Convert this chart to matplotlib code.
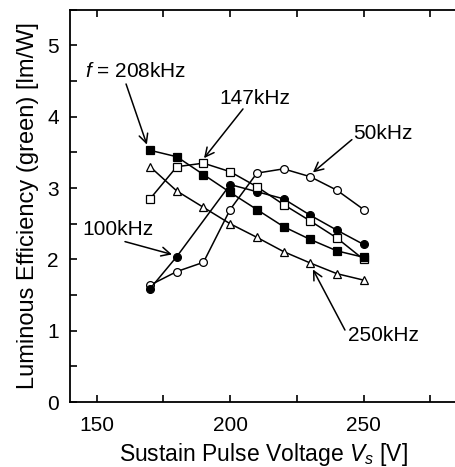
import matplotlib
matplotlib.use('Agg')
import matplotlib.pyplot as plt
from matplotlib.ticker import MultipleLocator

plt.rcParams.update({
    'font.family': ['Liberation Sans', 'DejaVu Sans'],
    'font.size': 15,
    'mathtext.fontset': 'custom',
    'mathtext.it': 'Liberation Sans:italic',
    'mathtext.rm': 'Liberation Sans',
})

# data
voltage = [170, 180, 190, 200, 210, 220, 230, 240, 250]
eff_208 = [3.53, 3.44, 3.19, 2.94, 2.70, 2.46, 2.28, 2.12, 2.03]
eff_147 = [2.85, 3.30, 3.35, 3.23, 3.02, 2.77, 2.54, 2.30, 2.00]
eff_50 = [1.64, 1.83, 1.96, 2.70, 3.21, 3.27, 3.16, 2.97, 2.70]
voltage_100 = [170, 180, 200, 210, 220, 230, 240, 250]
eff_100 = [1.59, 2.04, 3.05, 2.95, 2.85, 2.62, 2.41, 2.21]
eff_250 = [3.30, 2.96, 2.73, 2.50, 2.31, 2.11, 1.95, 1.80, 1.71]

fig = plt.figure(figsize=(4.56, 4.67), dpi=100)
ax = fig.add_axes([0.1535, 0.139, 0.8465, 0.84])

kw = dict(color='black', lw=1.1, mec='black', mew=0.9, clip_on=False)
ax.plot(voltage, eff_250, marker='^', mfc='white', ms=6.3, **kw)
ax.plot(voltage, eff_50, marker='o', mfc='white', ms=5.6, **kw)
ax.plot(voltage_100, eff_100, marker='o', mfc='black', ms=5.6, **kw)
ax.plot(voltage, eff_147, marker='s', mfc='white', ms=5.4, **kw)
ax.plot(voltage, eff_208, marker='s', mfc='black', ms=5.4, **kw)

ax.set_xlim(140, 284.6)
ax.set_ylim(0, 5.5)
ax.xaxis.set_major_locator(MultipleLocator(50))
ax.xaxis.set_minor_locator(MultipleLocator(25))
ax.yaxis.set_major_locator(MultipleLocator(1))
ax.yaxis.set_minor_locator(MultipleLocator(0.5))
ax.tick_params(which='both', direction='in', top=True, right=False, width=1.2, length=5)
ax.tick_params(axis='x', pad=10, labelsize=15)
ax.tick_params(axis='y', pad=8, labelsize=15)
ax.spines['right'].set_visible(False)
for s in ['left', 'bottom', 'top']:
    ax.spines[s].set_linewidth(1.3)

ax.set_xlabel('Sustain Pulse Voltage $V_s$ [V]', fontsize=16.5, labelpad=4)
ax.set_ylabel('Luminous Efficiency (green) [lm/W]', fontsize=17, labelpad=6)

arrow = dict(arrowstyle='->', color='black', lw=1.1, mutation_scale=16,
             shrinkA=0, shrinkB=0)
# arrows
ax.annotate('', xy=(168.8, 3.61), xytext=(161.0, 4.46), arrowprops=arrow)
ax.annotate('', xy=(190.2, 3.42), xytext=(204.8, 4.11), arrowprops=arrow)
ax.annotate('', xy=(231.0, 3.22), xytext=(245.6, 3.68), arrowprops=arrow)
ax.annotate('', xy=(178.2, 2.07), xytext=(160.6, 2.25), arrowprops=arrow)
ax.annotate('', xy=(231.0, 1.86), xytext=(243.0, 1.01), arrowprops=arrow)
# labels
ax.text(145.6, 4.64, '$f$ = 208kHz', ha='left', va='center', fontsize=15)
ax.text(209.3, 4.26, '147kHz', ha='center', va='center', fontsize=15)
ax.text(257.2, 3.76, '50kHz', ha='center', va='center', fontsize=15)
ax.text(158.0, 2.42, '100kHz', ha='center', va='center', fontsize=15)
ax.text(257.6, 0.94, '250kHz', ha='center', va='center', fontsize=15)

fig.savefig('out.png', dpi=100)
